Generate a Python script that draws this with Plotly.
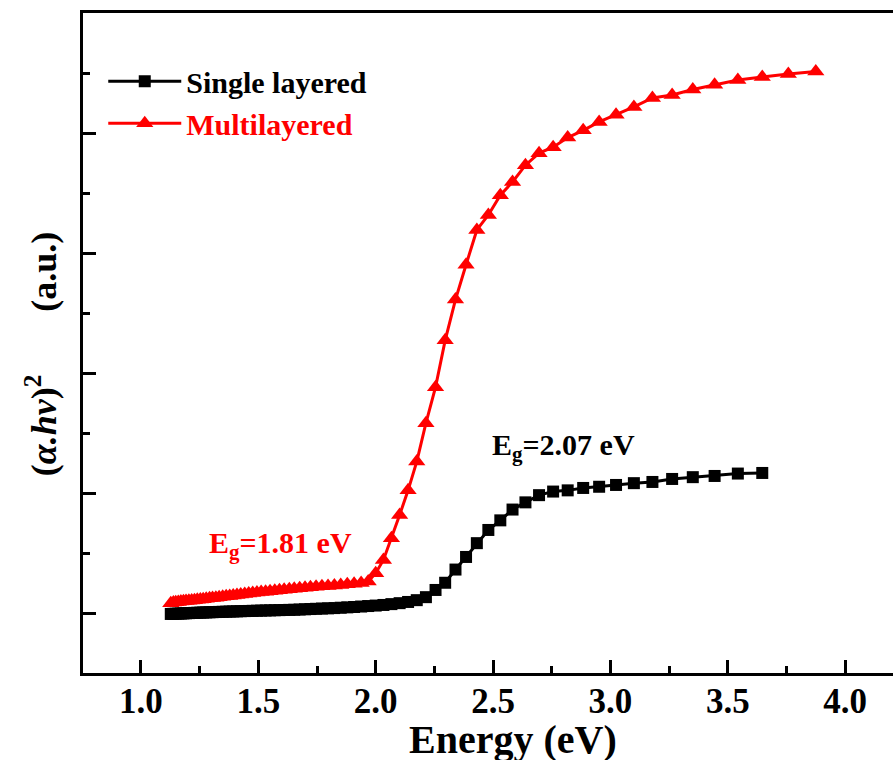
import plotly.graph_objects as go

# Energy values (eV) for each measured point
energy_single = [1.127, 1.138, 1.148, 1.159, 1.170, 1.181, 1.192, 1.204, 1.216, 1.228,
                 1.240, 1.253, 1.265, 1.278, 1.292, 1.305, 1.319, 1.333, 1.348, 1.363,
                 1.378, 1.393, 1.409, 1.425, 1.442, 1.459, 1.476, 1.494, 1.512, 1.531,
                 1.550, 1.570, 1.590, 1.610, 1.632, 1.653, 1.676, 1.699, 1.722, 1.746,
                 1.771, 1.797, 1.824, 1.851, 1.879, 1.908, 1.938, 1.968, 2.000, 2.033,
                 2.067, 2.102, 2.138, 2.175, 2.214, 2.255, 2.296, 2.340, 2.385, 2.431,
                 2.480, 2.531, 2.583, 2.638, 2.696, 2.756, 2.818, 2.884, 2.952, 3.024,
                 3.100, 3.179, 3.263, 3.351, 3.444, 3.543, 3.647]
value_single = [0.000, 0.001, 0.002, 0.003, 0.004, 0.005, 0.006, 0.007, 0.008, 0.009,
                0.010, 0.011, 0.012, 0.013, 0.014, 0.015, 0.016, 0.017, 0.018, 0.019,
                0.020, 0.021, 0.022, 0.023, 0.024, 0.025, 0.026, 0.027, 0.028, 0.029,
                0.030, 0.031, 0.032, 0.033, 0.034, 0.035, 0.037, 0.039, 0.041, 0.043,
                0.045, 0.047, 0.049, 0.052, 0.055, 0.058, 0.062, 0.066, 0.070, 0.075,
                0.082, 0.090, 0.100, 0.115, 0.140, 0.200, 0.260, 0.370, 0.475, 0.590,
                0.700, 0.780, 0.870, 0.930, 0.990, 1.020, 1.030, 1.050, 1.060, 1.075,
                1.090, 1.100, 1.125, 1.140, 1.150, 1.170, 1.175]

energy_multi = [1.127, 1.138, 1.148, 1.159, 1.170, 1.181, 1.192, 1.204, 1.216, 1.228,
                1.240, 1.253, 1.265, 1.278, 1.292, 1.305, 1.319, 1.333, 1.348, 1.363,
                1.378, 1.393, 1.409, 1.425, 1.442, 1.459, 1.476, 1.494, 1.512, 1.531,
                1.550, 1.570, 1.590, 1.610, 1.632, 1.653, 1.676, 1.699, 1.722, 1.746,
                1.771, 1.797, 1.824, 1.851, 1.879, 1.908, 1.938, 1.968, 2.000, 2.033,
                2.067, 2.102, 2.138, 2.175, 2.214, 2.255, 2.296, 2.340, 2.385, 2.431,
                2.480, 2.531, 2.583, 2.638, 2.696, 2.756, 2.818, 2.884, 2.952, 3.024,
                3.100, 3.179, 3.263, 3.351, 3.444, 3.543, 3.647, 3.758, 3.875]
value_multi = [0.090, 0.095, 0.098, 0.100, 0.103, 0.105, 0.107, 0.110, 0.112, 0.115,
               0.118, 0.120, 0.123, 0.126, 0.130, 0.133, 0.136, 0.140, 0.143, 0.147,
               0.150, 0.154, 0.158, 0.162, 0.166, 0.170, 0.174, 0.178, 0.182, 0.186,
               0.190, 0.194, 0.198, 0.202, 0.206, 0.210, 0.214, 0.218, 0.222, 0.226,
               0.230, 0.234, 0.238, 0.242, 0.247, 0.252, 0.258, 0.270, 0.340, 0.450,
               0.630, 0.825, 1.030, 1.270, 1.590, 1.890, 2.280, 2.620, 2.910, 3.200,
               3.325, 3.490, 3.600, 3.740, 3.840, 3.890, 3.970, 4.030, 4.100, 4.160,
               4.225, 4.300, 4.325, 4.370, 4.410, 4.450, 4.475, 4.500, 4.520]

series_names = ["Single layered", "Multilayered"]
x_tick_values = [1.0, 1.5, 2.0, 2.5, 3.0, 3.5, 4.0]
x_tick_labels = ["1.0", "1.5", "2.0", "2.5", "3.0", "3.5", "4.0"]
gap_labels = ["E<sub>g</sub>=1.81 eV", "E<sub>g</sub>=2.07 eV"]
gap_label_pos = [(1.281, 0.575), (2.488, 1.39)]

FONT = "Times New Roman, Liberation Serif, serif"
RED = "#FF0000"

fig = go.Figure()
fig.add_trace(go.Scatter(
    x=energy_single, y=value_single, mode="lines+markers",
    name="<b>" + series_names[0] + "</b>",
    line=dict(color="black", width=3),
    marker=dict(symbol="square", size=12, color="black"),
))
fig.add_trace(go.Scatter(
    x=energy_multi, y=value_multi, mode="lines+markers",
    name="<b><span style='color:#FF0000'>" + series_names[1] + "</span></b>",
    line=dict(color=RED, width=3),
    marker=dict(symbol="triangle-up", size=15, color=RED),
))

fig.add_annotation(x=gap_label_pos[0][0], y=gap_label_pos[0][1], xref="x", yref="y",
                   text="<b>" + gap_labels[0] + "</b>", showarrow=False,
                   xanchor="left", yanchor="middle",
                   font=dict(family=FONT, size=30, color=RED))
fig.add_annotation(x=gap_label_pos[1][0], y=gap_label_pos[1][1], xref="x", yref="y",
                   text="<b>" + gap_labels[1] + "</b>", showarrow=False,
                   xanchor="left", yanchor="middle",
                   font=dict(family=FONT, size=30, color="black"))

# axis titles
fig.add_annotation(x=0.531, y=-0.1, xref="paper", yref="paper",
                   text="<b>Energy (eV)</b>", showarrow=False,
                   xanchor="center", yanchor="middle",
                   font=dict(family=FONT, size=40, color="black"))
fig.add_annotation(x=0, y=0.483, xref="paper", yref="paper", xshift=-42,
                   text="<b>(<i>α.hv</i>)<sup>2</sup>" + "\u00a0" * 7 + "(a.u.)</b>",
                   textangle=-90, showarrow=False,
                   xanchor="center", yanchor="middle",
                   font=dict(family=FONT, size=36, color="black"))

fig.update_layout(
    width=893, height=760,
    margin=dict(l=83, r=0, t=13, b=87),
    paper_bgcolor="white", plot_bgcolor="white",
    font=dict(family=FONT, color="black"),
    showlegend=True,
    legend=dict(x=0.025, y=0.936, xanchor="left", yanchor="top",
                bgcolor="rgba(0,0,0,0)", borderwidth=0,
                font=dict(family=FONT, size=30, color="black"),
                itemwidth=73, tracegroupgap=0),
    xaxis=dict(range=[0.753, 4.204], tickvals=x_tick_values, ticktext=x_tick_labels,
               showline=True, linecolor="black", linewidth=3, mirror=True,
               ticks="inside", ticklen=13, tickwidth=3, tickcolor="black",
               minor=dict(ticks="inside", ticklen=7, tickwidth=3, tickcolor="black", dtick=0.25, tick0=0),
               showgrid=False, zeroline=False,
               tickfont=dict(family=FONT, size=35, color="black", weight="bold"),
               ticklabelstandoff=-5),
    yaxis=dict(range=[-0.492, 5.008], dtick=1, tick0=0,
               showline=True, linecolor="black", linewidth=3, mirror=False,
               ticks="inside", ticklen=13, tickwidth=3, tickcolor="black",
               minor=dict(ticks="inside", ticklen=7, tickwidth=3, tickcolor="black", dtick=0.5, tick0=0),
               showgrid=False, zeroline=False, showticklabels=False),
)

fig.write_html("out.html")
